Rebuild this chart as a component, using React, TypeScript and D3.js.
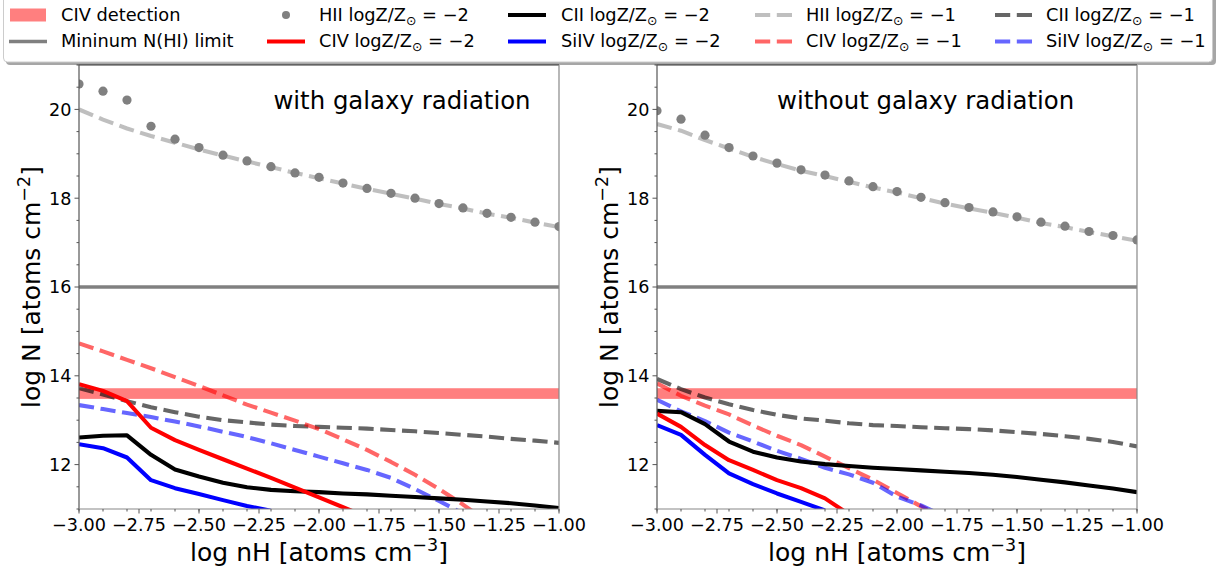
import React from "react";
import * as d3 from "d3";

// ---------- data ----------
const nH = [-3.0, -2.9, -2.8, -2.7, -2.6, -2.5, -2.4, -2.3, -2.2, -2.1, -2.0, -1.9, -1.8, -1.7, -1.6, -1.5, -1.4, -1.3, -1.2, -1.1, -1.0];

// with galaxy radiation
const withHII_m2 = [20.57, 20.41, 20.21, 19.62, 19.33, 19.14, 18.97, 18.84, 18.71, 18.57, 18.47, 18.34, 18.22, 18.11, 18.0, 17.88, 17.78, 17.66, 17.57, 17.46, 17.36];
const withHII_m1 = [20.0, 19.77, 19.57, 19.4, 19.25, 19.1, 18.96, 18.83, 18.7, 18.57, 18.45, 18.33, 18.21, 18.1, 17.99, 17.87, 17.77, 17.65, 17.56, 17.45, 17.35];
const withCIV_m2 = [13.81, 13.66, 13.43, 12.83, 12.55, 12.33, 12.12, 11.91, 11.7, 11.48, 11.26, 11.04, 10.82, null, null, null, null, null, null, null, null];
const withCII_m2 = [12.61, 12.65, 12.66, 12.22, 11.89, 11.73, 11.59, 11.49, 11.43, 11.4, 11.38, 11.35, 11.33, 11.3, 11.27, 11.24, 11.21, 11.17, 11.13, 11.08, 11.02];
const withSiIV_m2 = [12.46, 12.37, 12.16, 11.65, 11.47, 11.34, 11.2, 11.07, 10.96, null, null, null, null, null, null, null, null, null, null, null, null];
const withCIV_m1 = [14.73, 14.55, 14.36, 14.17, 13.97, 13.77, 13.56, 13.35, 13.17, 12.99, 12.8, 12.57, 12.33, 12.06, 11.77, 11.45, 11.1, 10.72, null, null, null];
const withCII_m1 = [13.72, 13.58, 13.43, 13.29, 13.18, 13.08, 13.0, 12.95, 12.9, 12.87, 12.85, 12.83, 12.81, 12.78, 12.75, 12.71, 12.67, 12.63, 12.58, 12.54, 12.49];
const withSiIV_m1 = [13.34, 13.25, 13.16, 13.07, 12.97, 12.86, 12.74, 12.62, 12.48, 12.33, 12.18, 12.03, 11.88, 11.7, 11.45, 11.18, 10.9, null, null, null, null];

// without galaxy radiation
const woHII_m2 = [19.97, 19.78, 19.42, 19.14, 18.95, 18.79, 18.64, 18.52, 18.39, 18.26, 18.15, 18.02, 17.9, 17.79, 17.69, 17.58, 17.46, 17.37, 17.25, 17.16, 17.06];
const woHII_m1 = [19.67, 19.52, 19.31, 19.12, 18.93, 18.77, 18.62, 18.5, 18.37, 18.24, 18.13, 18.0, 17.88, 17.77, 17.67, 17.56, 17.44, 17.35, 17.24, 17.14, 17.04];
const woCIV_m2 = [13.15, 12.85, 12.44, 12.1, 11.88, 11.65, 11.47, 11.24, 10.88, null, null, null, null, null, null, null, null, null, null, null, null];
const woCII_m2 = [13.21, 13.18, 12.91, 12.52, 12.29, 12.16, 12.07, 12.01, 11.97, 11.93, 11.9, 11.87, 11.84, 11.81, 11.77, 11.72, 11.66, 11.6, 11.53, 11.46, 11.38];
const woSiIV_m2 = [12.89, 12.67, 12.22, 11.8, 11.56, 11.35, 11.16, 10.97, null, null, null, null, null, null, null, null, null, null, null, null, null];
const woCIV_m1 = [13.83, 13.55, 13.33, 13.13, 12.88, 12.65, 12.44, 12.18, 11.92, 11.66, 11.36, 11.06, 10.78, null, null, null, null, null, null, null, null];
const woCII_m1 = [13.93, 13.7, 13.51, 13.36, 13.23, 13.12, 13.04, 12.99, 12.93, 12.89, 12.87, 12.84, 12.82, 12.8, 12.77, 12.73, 12.69, 12.64, 12.58, 12.51, 12.41];
const woSiIV_m1 = [13.46, 13.2, 12.98, 12.72, 12.52, 12.31, 12.13, 11.93, 11.78, 11.59, 11.28, 11.08, 10.83, null, null, null, null, null, null, null, null];

const civBand = [13.48, 13.72];
const minHI = 16;

const xDomain = [-3, -1];
const yDomain = [11, 21];
const xMajorTicks = [-3, -2.75, -2.5, -2.25, -2, -1.75, -1.5, -1.25, -1];
const xMinorTicks = nH;
const yMajorTicks = [12, 14, 16, 18, 20];
const yMinorTicks = [11, 11.5, 12.5, 13, 13.5, 14.5, 15, 15.5, 16.5, 17, 17.5, 18.5, 19, 19.5, 20.5, 21];

const panelTitles = ["with galaxy radiation", "without galaxy radiation"];
const titlePosX = [-2.19, -2.5];
const titlePosY = 20.0;

// ---------- styles ----------
const FONT = "DejaVu Sans, Verdana, sans-serif";
const LW = 4.1;
const DASH = "15.2,6.6";

type Style = { color: string; opacity: number; dashed: boolean; marker?: boolean };
const S_HII_m2: Style = { color: "#808080", opacity: 1, dashed: false, marker: true };
const S_CIV_m2: Style = { color: "#ff0000", opacity: 1, dashed: false };
const S_CII_m2: Style = { color: "#000000", opacity: 1, dashed: false };
const S_SiIV_m2: Style = { color: "#0000ff", opacity: 1, dashed: false };
const S_HII_m1: Style = { color: "#808080", opacity: 0.5, dashed: true };
const S_CIV_m1: Style = { color: "#ff0000", opacity: 0.6, dashed: true };
const S_CII_m1: Style = { color: "#000000", opacity: 0.6, dashed: true };
const S_SiIV_m1: Style = { color: "#0000ff", opacity: 0.6, dashed: true };

const panelSeries = [
  [
    { v: withCII_m1, s: S_CII_m1 },
    { v: withCIV_m1, s: S_CIV_m1 },
    { v: withSiIV_m1, s: S_SiIV_m1 },
    { v: withCII_m2, s: S_CII_m2 },
    { v: withSiIV_m2, s: S_SiIV_m2 },
    { v: withCIV_m2, s: S_CIV_m2 },
    { v: withHII_m1, s: S_HII_m1 },
    { v: withHII_m2, s: S_HII_m2 },
  ],
  [
    { v: woCII_m1, s: S_CII_m1 },
    { v: woCIV_m1, s: S_CIV_m1 },
    { v: woSiIV_m1, s: S_SiIV_m1 },
    { v: woCII_m2, s: S_CII_m2 },
    { v: woSiIV_m2, s: S_SiIV_m2 },
    { v: woCIV_m2, s: S_CIV_m2 },
    { v: woHII_m1, s: S_HII_m1 },
    { v: woHII_m2, s: S_HII_m2 },
  ],
];

const PLOT_TOP = 65;
const PLOT_BOTTOM = 509;
const PLOT_W = 480;
const PANEL_LEFTS = [79, 657];

function Sub({ tail }: { tail: string }) {
  return (
    <>
      <tspan fontSize={12.5} dy={4}>⊙</tspan>
      <tspan dy={-4}>{tail}</tspan>
    </>
  );
}

function Panel({ idx }: { idx: number }) {
  const left = PANEL_LEFTS[idx];
  const x = d3.scaleLinear().domain(xDomain).range([left, left + PLOT_W]);
  const y = d3.scaleLinear().domain(yDomain).range([PLOT_BOTTOM, PLOT_TOP]);
  const clipId = `clip${idx}`;
  const fmt = d3.format(".2f");
  const line = d3
    .line<[number, number | null]>()
    .defined((d) => d[1] != null)
    .x((d) => x(d[0]))
    .y((d) => y(d[1] as number));

  const series = panelSeries[idx];
  return (
    <g>
      <defs>
        <clipPath id={clipId}>
          <rect x={x(-3)} y={y(21)} width={x(-1) - x(-3)} height={y(11) - y(21)} />
        </clipPath>
      </defs>
      <g clipPath={`url(#${clipId})`}>
        <rect x={x(-3)} y={y(civBand[1])} width={x(-1) - x(-3)} height={y(civBand[0]) - y(civBand[1])} fill="#ff0000" fillOpacity={0.5} />
        <line x1={x(-3)} x2={x(-1)} y1={y(minHI)} y2={y(minHI)} stroke="#808080" strokeWidth={3.5} />
        {series.map((sr, i) => {
          const pts = nH.map((xv, j) => [xv, sr.v[j]] as [number, number | null]);
          if (sr.s.marker) {
            return (
              <g key={i}>
                {pts.filter((p) => p[1] != null).map((p, j) => (
                  <circle key={j} cx={x(p[0])} cy={y(p[1] as number)} r={4.6} fill={sr.s.color} />
                ))}
              </g>
            );
          }
          return (
            <path
              key={i}
              d={line(pts) || ""}
              fill="none"
              stroke={sr.s.color}
              strokeOpacity={sr.s.opacity}
              strokeWidth={LW}
              strokeDasharray={sr.s.dashed ? DASH : undefined}
              strokeLinejoin="round"
            />
          );
        })}
      </g>
      <text x={x(titlePosX[idx])} y={y(titlePosY)} fontFamily={FONT} fontSize={24.4} fill="#000">
        {panelTitles[idx]}
      </text>
      {/* spines */}
      <line x1={x(-3)} x2={x(-1)} y1={PLOT_TOP} y2={PLOT_TOP} stroke="#333" strokeWidth={1.2} />
      <line x1={x(-3)} x2={x(-3)} y1={PLOT_TOP} y2={PLOT_BOTTOM} stroke="#555" strokeWidth={1.2} />
      <line x1={x(-1)} x2={x(-1)} y1={PLOT_TOP} y2={PLOT_BOTTOM} stroke="#888" strokeWidth={1.2} />
      <line x1={x(-3)} x2={x(-1)} y1={PLOT_BOTTOM} y2={PLOT_BOTTOM} stroke="#888" strokeWidth={1.2} />
      {/* x ticks */}
      {xMinorTicks.map((t, i) => (
        <line key={"xm" + i} x1={x(t)} x2={x(t)} y1={PLOT_BOTTOM} y2={PLOT_BOTTOM + 2.5} stroke="#555" strokeWidth={1} />
      ))}
      {xMajorTicks.map((t, i) => (
        <g key={"xM" + i}>
          <line x1={x(t)} x2={x(t)} y1={PLOT_BOTTOM} y2={PLOT_BOTTOM + 4.5} stroke="#555" strokeWidth={1} />
          <text x={x(t)} y={PLOT_BOTTOM + 21.5} textAnchor="middle" fontFamily={FONT} fontSize={17.6} fill="#000">
            {fmt(t)}
          </text>
        </g>
      ))}
      {/* y ticks */}
      {yMinorTicks.map((t, i) => (
        <line key={"ym" + i} x1={x(-3) - 2.5} x2={x(-3)} y1={y(t)} y2={y(t)} stroke="#555" strokeWidth={1} />
      ))}
      {yMajorTicks.map((t, i) => (
        <g key={"yM" + i}>
          <line x1={x(-3) - 4.5} x2={x(-3)} y1={y(t)} y2={y(t)} stroke="#555" strokeWidth={1} />
          <text x={x(-3) - 7.5} y={y(t)} dy="0.36em" textAnchor="end" fontFamily={FONT} fontSize={17.6} fill="#000">
            {t}
          </text>
        </g>
      ))}
      {/* axis labels */}
      <text x={left + PLOT_W / 2} y={561} textAnchor="middle" fontFamily={FONT} fontSize={25} fill="#000">
        log nH [atoms cm<tspan fontSize={17.5} dy={-10}>−3</tspan>
        <tspan dy={10}>]</tspan>
      </text>
      <text
        transform={`translate(${left - 39.5},${(PLOT_TOP + PLOT_BOTTOM) / 2}) rotate(-90)`}
        textAnchor="middle"
        fontFamily={FONT}
        fontSize={25}
        fill="#000"
      >
        log N [atoms cm<tspan fontSize={17.5} dy={-10}>−2</tspan>
        <tspan dy={10}>]</tspan>
      </text>
    </g>
  );
}

type LegendEntry = { label: string; tail?: string; kind: "patch" | "line" | "dot"; color: string; opacity: number; dashed?: boolean; width?: number };
const legendEntries: LegendEntry[] = [
  { label: "CIV detection", kind: "patch", color: "#ff0000", opacity: 0.5 },
  { label: "Mininum N(HI) limit", kind: "line", color: "#808080", opacity: 1, width: 3.5 },
  { label: "HII logZ/Z", tail: " = −2", kind: "dot", color: "#808080", opacity: 1 },
  { label: "CIV logZ/Z", tail: " = −2", kind: "line", color: "#ff0000", opacity: 1 },
  { label: "CII logZ/Z", tail: " = −2", kind: "line", color: "#000000", opacity: 1 },
  { label: "SiIV logZ/Z", tail: " = −2", kind: "line", color: "#0000ff", opacity: 1 },
  { label: "HII logZ/Z", tail: " = −1", kind: "line", color: "#808080", opacity: 0.5, dashed: true },
  { label: "CIV logZ/Z", tail: " = −1", kind: "line", color: "#ff0000", opacity: 0.6, dashed: true },
  { label: "CII logZ/Z", tail: " = −1", kind: "line", color: "#000000", opacity: 0.6, dashed: true },
  { label: "SiIV logZ/Z", tail: " = −1", kind: "line", color: "#0000ff", opacity: 0.6, dashed: true },
];
const legendHandleX = [9, 267, 508, 755, 995];
const legendTextX = [61, 319, 561, 806, 1046];
const legendRowY = [15, 41.5];
const legendBaseY = [20.7, 47.3];

function Legend() {
  return (
    <g>
      <rect x={6} y={-10} width={1210} height={75} rx={4} fill="#000" fillOpacity={0.35} />
      <rect x={3.5} y={-12} width={1209} height={74} rx={4} fill="#fff" stroke="#cccccc" strokeWidth={1} />
      {legendEntries.map((e, i) => {
        const col = Math.floor(i / 2);
        const row = i % 2;
        const hx = legendHandleX[col];
        const hy = legendRowY[row];
        const hw = 38;
        let handle: React.ReactNode = null;
        if (e.kind === "patch") {
          handle = <rect x={hx + 1} y={hy - 6.5} width={hw - 2} height={13} fill={e.color} fillOpacity={e.opacity} />;
        } else if (e.kind === "dot") {
          handle = <circle cx={hx + hw / 2} cy={hy} r={4} fill={e.color} />;
        } else {
          handle = (
            <line
              x1={hx}
              x2={hx + hw}
              y1={hy}
              y2={hy}
              stroke={e.color}
              strokeOpacity={e.opacity}
              strokeWidth={e.width ?? LW}
              strokeDasharray={e.dashed ? DASH : undefined}
            />
          );
        }
        return (
          <g key={i}>
            {handle}
            <text x={legendTextX[col]} y={legendBaseY[row]} fontFamily={FONT} fontSize={17.8} fill="#000">
              {e.label}
              {e.tail ? <Sub tail={e.tail} /> : null}
            </text>
          </g>
        );
      })}
    </g>
  );
}

export default function App() {
  return (
    <svg
      width={1223}
      height={573}
      viewBox="0 0 1223 573"
      style={{ position: "absolute", left: 0, top: 0, background: "#fff" }}
    >
      <rect x={0} y={0} width={1223} height={573} fill="#fff" />
      <Panel idx={0} />
      <Panel idx={1} />
      <Legend />
    </svg>
  );
}
